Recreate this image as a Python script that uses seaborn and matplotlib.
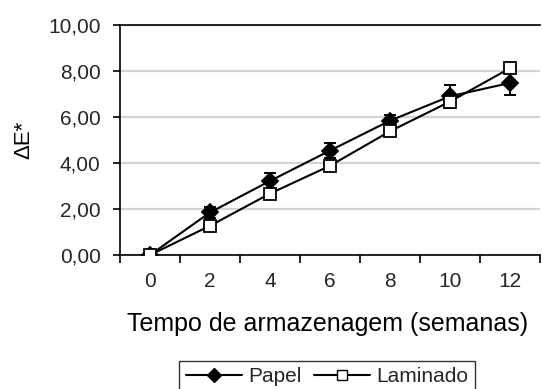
import matplotlib
matplotlib.use("Agg")
import matplotlib.pyplot as plt
from matplotlib.lines import Line2D
from matplotlib.ticker import FixedLocator, FuncFormatter
import numpy as np
import pandas as pd
import seaborn as sns

# Storage time (weeks) and colour difference ΔE* for each packaging
semanas = [0, 2, 4, 6, 8, 10, 12]
papel = [0.00, 1.85, 3.22, 4.54, 5.84, 6.90, 7.48]
papel_dp = [0.05, 0.25, 0.35, 0.33, 0.25, 0.50, 0.52]
laminado = [0.00, 1.27, 2.67, 3.88, 5.38, 6.67, 8.12]
laminado_dp = [0.05, 0.18, 0.15, 0.12, 0.15, 0.25, 0.15]

sns.set_theme(style="white")
plt.rcParams["font.family"] = ["Liberation Sans", "DejaVu Sans"]

df = pd.DataFrame({
    "semana": semanas * 2,
    "dE": papel + laminado,
    "dp": papel_dp + laminado_dp,
    "embalagem": ["Papel"] * len(semanas) + ["Laminado"] * len(semanas),
})

W, H = 542, 389
fig = plt.figure(figsize=(W / 100, H / 100), dpi=100)
ax = fig.add_axes([120 / W, 1 - 255 / H, 420 / W, 230 / H])

estilos = {
    "Papel": dict(marker="D", mfc="black", ms=8, z=4),
    "Laminado": dict(marker="s", mfc="white", ms=9, z=5),
}

for nome, st in estilos.items():
    sub = df[df["embalagem"] == nome]
    ax.errorbar(sub["semana"], sub["dE"], yerr=sub["dp"], fmt="none",
                ecolor="black", elinewidth=1.4, capsize=4.5, capthick=1.4,
                zorder=st["z"] - 1)
    sns.lineplot(data=sub, x="semana", y="dE", ax=ax, color="black",
                 lw=1.5, marker=st["marker"], markersize=st["ms"],
                 markerfacecolor=st["mfc"], markeredgecolor="black",
                 markeredgewidth=1.3, zorder=st["z"], legend=False,
                 errorbar=None)

ax.set_xlim(-1, 13)
ax.set_ylim(0, 10)
ax.set_xticks(semanas)
ax.set_xticklabels([str(s) for s in semanas])
ax.xaxis.set_minor_locator(FixedLocator(np.arange(-1, 14, 2)))
ax.tick_params(axis="x", which="major", length=0, pad=12.5, labelsize=15)
ax.tick_params(axis="x", which="minor", length=6, width=1.2, color="black",
               direction="out", bottom=True)
ax.set_yticks(np.arange(0, 10.1, 2))
ax.yaxis.set_major_formatter(FuncFormatter(lambda v, p: f"{v:.2f}".replace(".", ",")))
ax.tick_params(axis="y", which="major", length=5, width=1.2, color="black",
               direction="out", left=True, pad=9, labelsize=15)

ax.grid(axis="y", color="#d4d4d4", lw=1.6)
ax.set_axisbelow(True)
for side in ["left", "bottom", "top"]:
    ax.spines[side].set_color("black")
    ax.spines[side].set_linewidth(1.2)
ax.spines["right"].set_visible(False)

ax.set_xlabel("Tempo de armazenagem (semanas)", fontsize=18, color="black")
ax.xaxis.set_label_coords(0.495, -0.25)
ax.set_ylabel("ΔE*", fontsize=16, color="black")
ax.yaxis.set_label_coords(-0.205, 0.5)

handles = [
    Line2D([], [], color="black", lw=1.5, marker="D", ms=7.5, mfc="black",
           mec="black", label="Papel"),
    Line2D([], [], color="black", lw=1.5, marker="s", ms=7.5, mfc="white",
           mec="black", label="Laminado"),
]
leg = fig.legend(handles=handles, loc="upper center",
                 bbox_to_anchor=(327 / W, 1 - 361 / H), ncol=2, frameon=True,
                 fancybox=False, edgecolor="black", fontsize=15,
                 handlelength=2.7, handletextpad=0.3, columnspacing=0.6,
                 borderpad=0.3, borderaxespad=0)
leg.get_frame().set_linewidth(1.0)

fig.savefig("out.png", dpi=100)
